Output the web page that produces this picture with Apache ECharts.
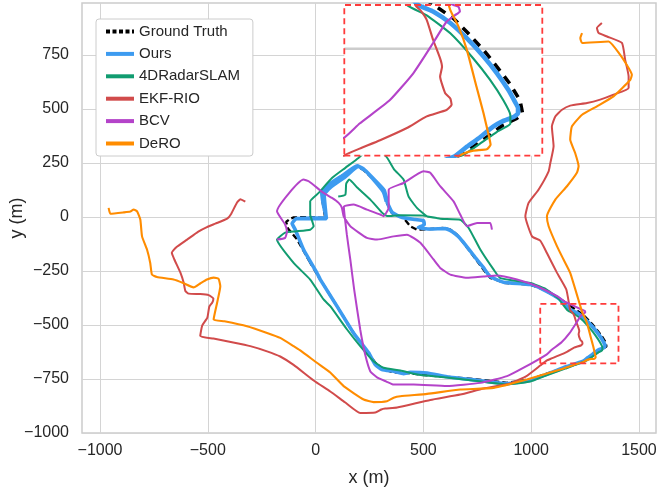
<!DOCTYPE html>
<html><head><meta charset="utf-8">
<script src="https://cdn.jsdelivr.net/npm/echarts@6/dist/echarts.min.js"></script>
<style>html,body{margin:0;padding:0;background:#fff}#c{width:657px;height:494px}</style>
</head><body><div id="c"></div>
<script>
// ---- data (metres) ----
const seriesNames = ['Ground Truth','Ours','4DRadarSLAM','EKF-RIO','BCV','DeRO'];
const xTicks = [-1000,-500,0,500,1000,1500];
const yTicks = [-1000,-750,-500,-250,0,250,500,750];
const xExtent = [-1083.5, 1579];
const yExtent = [-1000, 990];
const zoomBoxX = [1042, 1405];
const zoomBoxY = [-678, -402];
const insetX = [1070, 1380];
const insetY = [-666, -432];
const insetGridY = [-500];

const gtPath = [[-25,-211],[-85,-105],[-131,-50],[-136,-22],[-117,-8],[-104,-3],[-48,-1],[45,-5],[31,80],[30,111],[53,141],[115,186],[192,234],[221,219],[254,188],[323,118],[331,65],[354,18],[408,-5],[439,-43],[470,-59],[532,-56],[594,-51],[625,-59],[656,-82],[686,-120],[733,-182],[779,-244],[810,-282],[857,-298],[872,-305],[996,-313],[1057,-336],[1150,-390],[1200,-425],[1241,-453],[1264,-476],[1288,-502],[1309,-528],[1329,-554],[1345,-580],[1349,-600],[1340,-608],[1319,-618],[1298,-634],[1272,-652],[1246,-668],[1150,-700],[1057,-731],[996,-752],[888,-768],[749,-752],[609,-740],[486,-730],[424,-722],[362,-719],[315,-706],[277,-675],[238,-622],[176,-537],[99,-413],[22,-290],[-25,-211]];

const oursPath = [[-89,-8],[-25,-5],[50,-5],[36,57],[29,112],[54,145],[124,191],[193,237],[221,223],[263,182],[319,122],[333,66],[356,20],[402,-3],[462,-12],[500,-17],[504,-36],[476,-49],[532,-56],[601,-54],[634,-68],[662,-91],[694,-128],[741,-188],[778,-234],[810,-276],[871,-302],[996,-313],[1056,-336],[1135,-382],[1186,-432],[1209,-442],[1236,-460],[1262,-484],[1288,-512],[1309,-538],[1327,-564],[1337,-582],[1342,-592],[1342,-600],[1335,-606],[1319,-612],[1303,-621],[1283,-637],[1262,-652],[1241,-668],[1150,-698],[996,-756],[888,-771],[749,-756],[609,-740],[517,-722],[439,-719],[408,-725],[362,-714],[308,-706],[277,-683],[246,-629],[176,-537],[99,-413],[22,-290],[6,-259],[-56,-151],[-94,-59],[-109,-31],[-89,-8],[50,-8],[40,103],[68,136],[138,186],[198,233],[235,210],[314,117],[328,71]];

const radarPath = [[105,94],[138,103],[142,154],[156,173],[193,136],[254,80],[308,20],[333,4],[393,8],[500,6],[578,-8],[671,-13],[710,-51],[764,-151],[826,-244],[857,-283],[996,-306],[1065,-332],[1126,-378],[1168,-432],[1199,-448],[1236,-476],[1272,-515],[1298,-548],[1319,-580],[1330,-603],[1330,-616],[1324,-621],[1309,-629],[1283,-647],[1256,-665],[1158,-702],[1056,-739],[996,-762],[888,-775],[749,-759],[609,-743],[486,-732],[393,-711],[315,-698],[269,-668],[207,-598],[146,-521],[68,-413],[37,-382],[-25,-290],[-102,-213],[-179,-105],[-141,-73],[-94,-67],[-25,-59],[-9,-43],[-25,11],[-25,72],[14,111],[76,180],[138,227],[199,273],[263,325],[328,279],[365,219],[408,173],[431,95],[470,42],[517,3],[563,-5]];

const ekfPath = [[-326,71],[-349,82],[-365,66],[-391,15],[-410,-8],[-465,-31],[-504,-47],[-544,-68],[-596,-105],[-646,-140],[-667,-166],[-655,-197],[-627,-258],[-612,-304],[-604,-343],[-589,-355],[-535,-357],[-496,-362],[-474,-378],[-479,-396],[-493,-415],[-502,-466],[-526,-503],[-535,-551],[-474,-563],[-382,-581],[-303,-598],[-225,-622],[-164,-646],[-102,-685],[-9,-757],[68,-808],[138,-859],[207,-907],[277,-905],[305,-891],[323,-887],[378,-882],[532,-847],[671,-822],[779,-794],[903,-771],[982,-734],[1042,-688],[1071,-665],[1094,-655],[1126,-642],[1168,-623],[1199,-605],[1230,-595],[1238,-587],[1236,-577],[1228,-569],[1220,-543],[1223,-528],[1220,-515],[1209,-486],[1199,-455],[1189,-440],[1181,-432],[1163,-336],[1120,-259],[1073,-167],[1042,-110],[1004,-90],[973,3],[988,65],[1034,126],[1081,211],[1089,250],[1104,327],[1096,419],[1112,465],[1143,496],[1181,515],[1259,527],[1320,543],[1382,566],[1452,597],[1452,650],[1436,727],[1421,805],[1352,835],[1313,851],[1305,874],[1328,897]];

const bcvPath = [[-179,-105],[-141,-97],[-133,-67],[-141,-36],[-179,26],[-56,173],[-32,165],[37,111],[76,88],[107,65],[122,42],[130,3],[161,-43],[238,-97],[285,-105],[362,-90],[424,-82],[486,-120],[547,-197],[578,-236],[625,-267],[702,-282],[779,-276],[841,-271],[934,-290],[1027,-321],[1120,-367],[1163,-396],[1241,-432],[1249,-435],[1251,-442],[1243,-448],[1230,-458],[1209,-491],[1178,-538],[1141,-580],[1094,-616],[1071,-637],[965,-698],[888,-737],[764,-768],[609,-783],[455,-776],[362,-776],[328,-762],[285,-743],[254,-715],[230,-637],[207,-521],[179,-336],[161,-197],[145,-82],[131,48],[176,57],[238,34],[300,11],[315,3],[339,42],[339,126],[408,157],[501,211],[532,204],[578,142],[640,72],[671,11],[702,-43],[749,-28],[810,-28],[818,-59]];

const deroPath = [[-960,42],[-952,15],[-890,21],[-859,25],[-844,34],[-828,26],[-813,-12],[-805,-90],[-782,-151],[-767,-213],[-759,-267],[-736,-278],[-659,-290],[-614,-306],[-566,-326],[-535,-308],[-504,-290],[-473,-281],[-450,-287],[-442,-321],[-457,-398],[-473,-475],[-423,-483],[-318,-506],[-225,-537],[-164,-560],[-102,-598],[-71,-618],[6,-675],[68,-720],[130,-783],[223,-845],[269,-857],[331,-853],[362,-837],[393,-830],[517,-819],[671,-799],[826,-791],[980,-752],[1135,-706],[1200,-684],[1240,-672],[1256,-663],[1272,-658],[1293,-656],[1299,-649],[1296,-634],[1288,-600],[1277,-559],[1262,-502],[1249,-466],[1236,-440],[1228,-413],[1181,-259],[1150,-197],[1120,-136],[1081,-43],[1073,3],[1112,80],[1166,142],[1212,204],[1220,234],[1204,296],[1181,358],[1189,419],[1236,473],[1305,512],[1382,558],[1460,635],[1467,658],[1452,689],[1413,750],[1359,812],[1236,805],[1228,828],[1236,851]];

// ---- styling ----
const FONT = "'Liberation Sans', Arial, sans-serif";
const TXT = '#262626';
const paths = [gtPath, oursPath, radarPath, ekfPath, bcvPath, deroPath];
const colors = ['#000000','#3d9bf0','#119c70','#d14b4b','#b443c9','#ff8c00'];
const mainW = [2.4, 3.6, 2, 2, 2, 2.1];
const insetW = [3.6, 4.6, 2.1, 2.1, 2.1, 2.2];
const fmt = v => (v < 0 ? '\u2212' + Math.abs(v) : String(v));

function rect(xr, yr){ return [[xr[0],yr[0]],[xr[1],yr[0]],[xr[1],yr[1]],[xr[0],yr[1]],[xr[0],yr[0]]]; }

const series = [];
paths.forEach((p, i) => {
  series.push({
    type:'line', name: seriesNames[i], data: p, xAxisIndex:0, yAxisIndex:0,
    symbol:'none', smooth: i === 0 ? false : 0.15, z: 2,
    lineStyle:{color: colors[i], width: mainW[i], type: i === 0 ? [6,3] : 'solid'},
    itemStyle:{color: colors[i]}
  });
});
series.push({type:'line', name:'box', data: rect(zoomBoxX, zoomBoxY), xAxisIndex:0, yAxisIndex:0,
  symbol:'none', z:3, silent:true, clip:false,
  lineStyle:{color:'#ff3b3b', width:1.8, type:[6,4]}});
series.push({type:'line', name:'insetgrid', data: insetGridY.flatMap(v => [[insetX[0], v],[insetX[1], v]]),
  xAxisIndex:1, yAxisIndex:1, symbol:'none', z:11, silent:true,
  lineStyle:{color:'#cccccc', width:2.5}});
paths.forEach((p, i) => {
  series.push({
    type:'line', name: seriesNames[i], data: p, xAxisIndex:1, yAxisIndex:1,
    symbol:'none', smooth: i === 0 ? false : 0.15, z: 12, clip:true,
    lineStyle:{color: colors[i], width: insetW[i], type: i === 0 ? [9,7] : 'solid'},
    itemStyle:{color: colors[i]}
  });
});
series.push({type:'line', name:'insetbox', data: rect(insetX, insetY), xAxisIndex:1, yAxisIndex:1,
  symbol:'none', z:14, silent:true, clip:false,
  lineStyle:{color:'#ff3b3b', width:1.8, type:[6,4]}});

const chart = echarts.init(document.getElementById('c'), null, {renderer:'canvas'});
chart.setOption({
  animation:false,
  backgroundColor:'#ffffff',
  textStyle:{fontFamily: FONT},
  grid:[
    {left:82, top:3, width:574, height:430, show:true, backgroundColor:'#fff', borderColor:'#cccccc', borderWidth:1.5, z:0,
     containLabel:false, outerBoundsMode:'none'},
    {left:344.3, top:5, width:198, height:150.7, show:true, backgroundColor:'#fff', borderWidth:0, z:10,
     containLabel:false, outerBoundsMode:'none'}
  ],
  xAxis:[
    {gridIndex:0, type:'value', min:xExtent[0], max:xExtent[1],
     axisLine:{show:false}, axisTick:{show:false, customValues:xTicks},
     axisLabel:{customValues:xTicks, formatter:fmt, fontSize:16, color:TXT, margin:10, fontFamily:FONT},
     splitLine:{show:true, lineStyle:{color:'#d4d4d4', width:1}},
     name:'x (m)', nameLocation:'middle', nameGap:36, nameMoveOverlap:false,
     nameTextStyle:{fontSize:18, color:TXT, fontFamily:FONT}},
    {gridIndex:1, type:'value', min:insetX[0], max:insetX[1], show:false}
  ],
  yAxis:[
    {gridIndex:0, type:'value', min:yExtent[0], max:yExtent[1],
     axisLine:{show:false}, axisTick:{show:false, customValues:yTicks},
     axisLabel:{customValues:yTicks, formatter:fmt, fontSize:16, color:TXT, margin:13, fontFamily:FONT},
     splitLine:{show:true, lineStyle:{color:'#d4d4d4', width:1}},
     name:'y (m)', nameLocation:'middle', nameGap:56, nameMoveOverlap:false,
     nameTextStyle:{fontSize:18, color:TXT, fontFamily:FONT}},
    {gridIndex:1, type:'value', min:insetY[0], max:insetY[1], show:false}
  ],
  legend:{
    left:96, top:19, orient:'vertical', z:30,
    data: seriesNames.map((n, i) => i === 0 ? {name:n, lineStyle:{type:[4,2.5], width:4}} : {name:n}),
    itemWidth:28, itemHeight:14, itemGap:7.4,
    backgroundColor:'#fff', borderColor:'#cccccc', borderWidth:1, borderRadius:3,
    padding:[5,13,5,8],
    textStyle:{fontSize:15, color:TXT, fontFamily:FONT},
    itemStyle:{opacity:0},
    lineStyle:{width:4},
    selectedMode:false
  },
  series: series
});
</script>
</body></html>
